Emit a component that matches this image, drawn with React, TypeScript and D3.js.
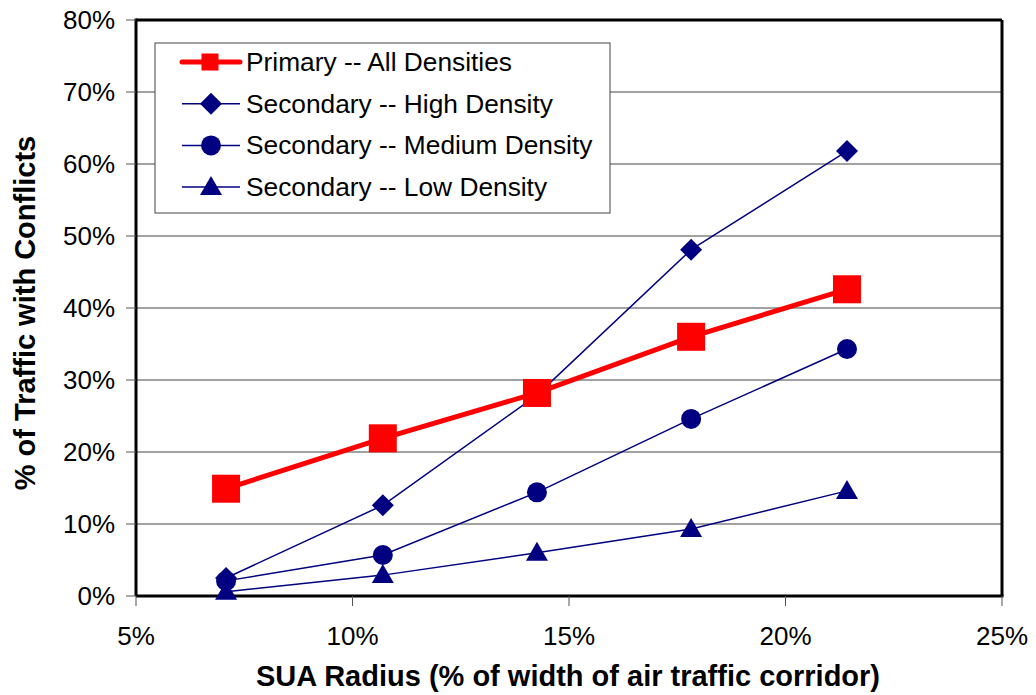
import React from "react";
import * as d3 from "d3";

const xValues = [7.08, 10.7, 14.26, 17.82, 21.42];
const primaryAll = [14.9, 21.9, 28.2, 36.0, 42.6];
const secondaryHigh = [2.5, 12.6, 27.9, 48.1, 61.8];
const secondaryMedium = [2.1, 5.7, 14.4, 24.6, 34.3];
const secondaryLow = [0.6, 2.9, 6.0, 9.3, 14.6];
const xTicks = [5, 10, 15, 20, 25];
const yTicks = [0, 10, 20, 30, 40, 50, 60, 70, 80];
const seriesNames = [
  "Primary -- All Densities",
  "Secondary -- High Density",
  "Secondary -- Medium Density",
  "Secondary -- Low Density",
];

const W = 1036, H = 695;
const L = 136, R = 1002, T = 20, B = 596;
const NAVY = "#000080";
const RED = "#FF0000";
const FONT = "'Liberation Sans', Arial, sans-serif";

function Marker({ type, x, y }: { type: string; x: number; y: number }) {
  if (type === "square") return <rect x={x - 14} y={y - 14} width={28} height={28} fill={RED} />;
  if (type === "diamond") return <path d={`M${x},${y - 11}L${x + 11},${y}L${x},${y + 11}L${x - 11},${y}Z`} fill={NAVY} />;
  if (type === "circle") return <circle cx={x} cy={y} r={10} fill={NAVY} />;
  return <path d={`M${x},${y - 11}L${x + 11},${y + 8}L${x - 11},${y + 8}Z`} fill={NAVY} />;
}

export default function App() {
  const xs = d3.scaleLinear().domain([5, 25]).range([L, R]);
  const ys = d3.scaleLinear().domain([0, 80]).range([B, T]);
  const series = [
    { name: seriesNames[0], vals: primaryAll, color: RED, width: 5, marker: "square" },
    { name: seriesNames[1], vals: secondaryHigh, color: NAVY, width: 1.5, marker: "diamond" },
    { name: seriesNames[2], vals: secondaryMedium, color: NAVY, width: 1.5, marker: "circle" },
    { name: seriesNames[3], vals: secondaryLow, color: NAVY, width: 1.5, marker: "triangle" },
  ];
  const line = d3.line<number>().x((_, i) => xs(xValues[i])).y((v) => ys(v));
  const drawOrder = [3, 2, 1, 0];
  return (
    <svg width={W} height={H} style={{ position: "absolute", left: 0, top: 0 }} fontFamily={FONT}>
      <rect x={0} y={0} width={W} height={H} fill="#fff" />
      {yTicks.slice(1, -1).map((t) => (
        <line key={t} x1={L} x2={R} y1={ys(t)} y2={ys(t)} stroke="#444" strokeWidth={1} />
      ))}
      <line x1={L} x2={R} y1={T} y2={T} stroke="#000" strokeWidth={3} />
      <line x1={R} x2={R} y1={T} y2={B} stroke="#000" strokeWidth={3} />
      <line x1={L} x2={L} y1={T - 1.5} y2={B} stroke="#000" strokeWidth={3} />
      <line x1={L} x2={R + 1.5} y1={B} y2={B} stroke="#000" strokeWidth={3} />
      {yTicks.map((t) => (
        <g key={t}>
          <line x1={L - 10} x2={L} y1={ys(t)} y2={ys(t)} stroke="#555" strokeWidth={1} />
          <text x={L - 21} y={ys(t) + 9} textAnchor="end" fontSize={26}>{t}%</text>
        </g>
      ))}
      {xTicks.map((t) => (
        <g key={t}>
          <line x1={xs(t)} x2={xs(t)} y1={B} y2={B + 10} stroke="#555" strokeWidth={1} />
          <text x={xs(t)} y={B + 49} textAnchor="middle" fontSize={26}>{t}%</text>
        </g>
      ))}
      <text x={568} y={686} textAnchor="middle" fontSize={29} fontWeight="bold">SUA Radius (% of width of air traffic corridor)</text>
      <text transform={`translate(35,313) rotate(-90)`} textAnchor="middle" fontSize={29} fontWeight="bold">% of Traffic with Conflicts</text>
      {drawOrder.map((si) => {
        const s = series[si];
        return (
          <g key={si}>
            <path d={line(s.vals) || ""} fill="none" stroke={s.color} strokeWidth={s.width} />
            {s.vals.map((v, i) => (
              <Marker key={i} type={s.marker} x={xs(xValues[i])} y={ys(v)} />
            ))}
          </g>
        );
      })}
      <rect x={155} y={43} width={455} height={170} fill="#fff" stroke="#444" strokeWidth={1} />
      {series.map((s, i) => {
        const cy = 62 + i * 41.7;
        return (
          <g key={i}>
            <line x1={182} x2={240} y1={cy} y2={cy} stroke={s.color} strokeWidth={s.width} strokeLinecap={i === 0 ? "round" : "butt"} />
            {i === 0 ? (
              <rect x={201.5} y={cy - 8.5} width={17} height={17} fill={RED} />
            ) : (
              <Marker type={s.marker} x={211} y={cy} />
            )}
            <text x={246} y={cy + 9} fontSize={26.3}>{s.name}</text>
          </g>
        );
      })}
    </svg>
  );
}
